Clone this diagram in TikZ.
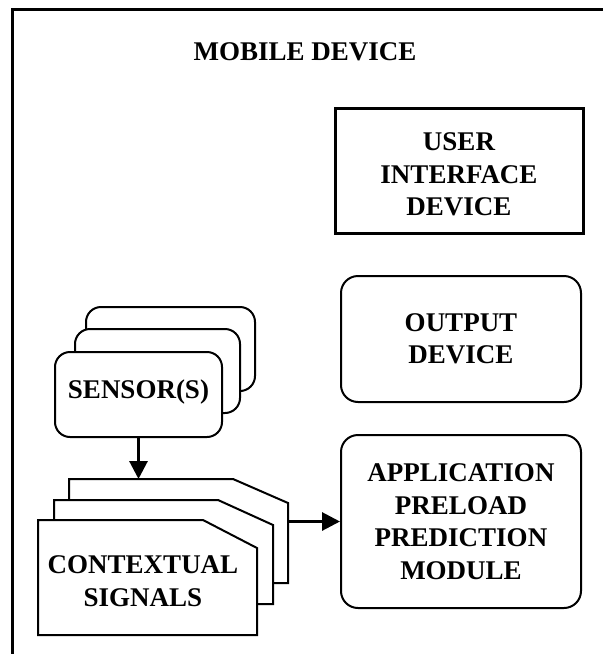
\documentclass[tikz,border=0pt]{standalone}
\usepackage{fontspec}
\setmainfont{Liberation Serif}
\usetikzlibrary{arrows.meta}
\begin{document}
\begin{tikzpicture}[x=1pt,y=-1pt,
  lbl/.style={font=\fontsize{27}{32.5}\selectfont\bfseries, align=center, inner sep=0pt},
  sqbox/.style={lbl, draw, line width=3pt, fill=white},
  rbox/.style={lbl, draw, line width=2pt, rounded corners=17pt, fill=white},
  sbox/.style={rbox, rounded corners=15pt},
  card/.style={draw, line width=2pt, fill=white, line join=miter},
  arr/.style={line width=3pt, -{Triangle[length=18pt,width=18pt]}}]
\useasboundingbox (0,0) rectangle (603,654);
% outer frame
\coordinate (fbl) at (12.5,654);
\coordinate (ftl) at (12.5,9);
\coordinate (ftr) at (603,9);
\draw[line width=3pt] (fbl) -- (ftl) -- (ftr);
% title
\node[lbl] (title) at (305,51.5) {MOBILE DEVICE};
% right column
\node[sqbox, minimum width=248pt, minimum height=125pt] (ui) at (459,170.5) {\rule{0pt}{26pt}USER\\INTERFACE\\DEVICE};
\node[rbox, minimum width=240pt, minimum height=126pt] (out) at (461,339) {OUTPUT\\DEVICE};
\node[rbox, minimum width=240pt, minimum height=173pt] (app) at (461,521.5) {APPLICATION\\PRELOAD\\PREDICTION\\MODULE};
% sensors stack
\node[sbox, minimum width=169pt, minimum height=84pt] (sen3) at (170.5,349) {};
\node[sbox, minimum width=165pt, minimum height=84pt] (sen2) at (157.5,371) {};
\node[sbox, minimum width=167pt, minimum height=85pt] (sen) at (138.5,394.5) {SENSOR(S)\rule[-11pt]{0pt}{11pt}};
% contextual signals stack
\draw[card] (69,479) -- (233,479) -- (288,503) -- (288,583) -- (69,583) -- cycle;
\draw[card] (54,500) -- (218,500) -- (273,525) -- (273,604) -- (54,604) -- cycle;
\draw[card] (38,520) -- (203,520) -- (257,548) -- (257,635) -- (38,635) -- cycle;
\node[lbl] (ctx) at (143,581) {CONTEXTUAL\\SIGNALS};
\coordinate (ctxtop) at (139,479);
\coordinate (ctxr) at (288,521.5);
% arrows
\draw[arr] (sen.south) -- (sen.south |- ctxtop);
\draw[arr] (ctxr) -- (app.west);
\end{tikzpicture}
\end{document}
